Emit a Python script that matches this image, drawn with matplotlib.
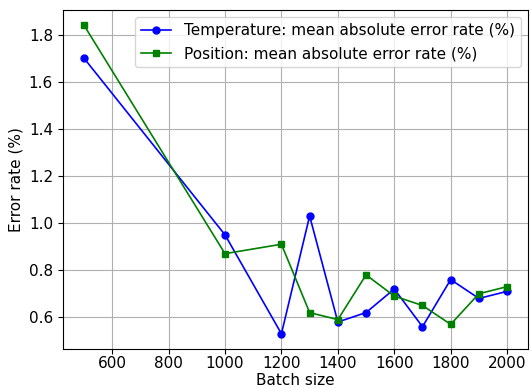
import matplotlib
matplotlib.use("Agg")
import matplotlib.pyplot as plt

# -------------------- data --------------------
batch_sizes = [500, 1000, 1200, 1300, 1400, 1500, 1600, 1700, 1800, 1900, 2000]
temp_err = [1.70, 0.95, 0.53, 1.03, 0.58, 0.62, 0.72, 0.56, 0.76, 0.68, 0.71]
pos_err = [1.84, 0.87, 0.91, 0.62, 0.59, 0.78, 0.69, 0.65, 0.57, 0.70, 0.73]

# -------------------- plot --------------------
fig, ax = plt.subplots(figsize=(5.32, 3.88), dpi=100)
ax.plot(batch_sizes, temp_err, color="blue", marker="o", markersize=5,
        linewidth=1.2, label="Temperature: mean absolute error rate (%)")
ax.plot(batch_sizes, pos_err, color="green", marker="s", markersize=5,
        linewidth=1.2, label="Position: mean absolute error rate (%)")

ax.set_xlabel("Batch size", fontsize=11, labelpad=1)
ax.set_ylabel("Error rate (%)", fontsize=11)
ax.tick_params(labelsize=11)
ax.tick_params(axis="x", pad=1.5)
ax.set_xticks([600, 800, 1000, 1200, 1400, 1600, 1800, 2000])
ax.grid(True)
ax.legend(fontsize=11, loc="upper right")

fig.subplots_adjust(left=0.118, right=0.993, top=0.975, bottom=0.1)
fig.savefig("out.png", dpi=100)
plt.close(fig)
